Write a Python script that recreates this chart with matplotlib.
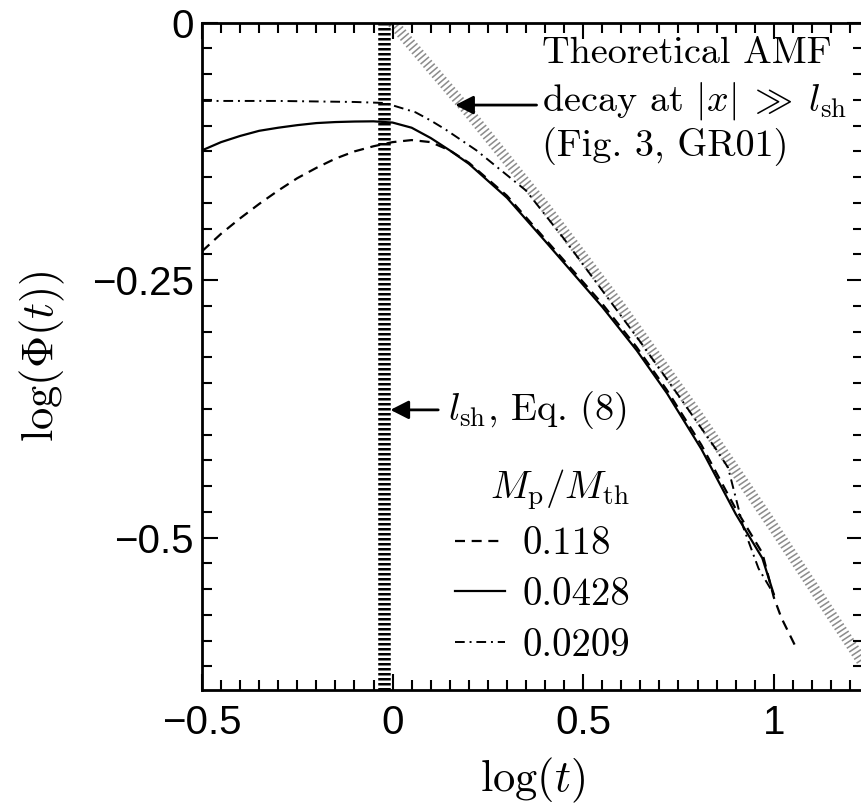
import matplotlib
matplotlib.use("Agg")
import matplotlib.pyplot as plt
from matplotlib.ticker import MultipleLocator

plt.rcParams['mathtext.fontset'] = 'cm'
plt.rcParams['font.family'] = 'serif'
plt.rcParams['font.serif'] = ['cmr10', 'DejaVu Serif']
plt.rcParams['axes.unicode_minus'] = True

# data
x_118 = [-0.5, -0.45, -0.4, -0.35, -0.3, -0.25, -0.2, -0.15, -0.1, -0.05, 0.0, 0.05,
         0.1, 0.15, 0.2, 0.3, 0.4, 0.55, 0.64, 0.72, 0.81, 0.9, 0.97, 1.0, 1.02, 1.06]
y_118 = [-0.222, -0.205, -0.19, -0.176, -0.163, -0.151, -0.141, -0.132, -0.125, -0.12,
         -0.116, -0.114, -0.116, -0.124, -0.136, -0.168, -0.21, -0.273, -0.315, -0.357,
         -0.41, -0.472, -0.515, -0.558, -0.578, -0.608]

x_0428 = [-0.5, -0.45, -0.4, -0.35, -0.3, -0.25, -0.2, -0.15, -0.1, -0.05, 0.0, 0.05,
          0.1, 0.15, 0.2, 0.3, 0.4, 0.55, 0.64, 0.72, 0.81, 0.9, 0.97, 1.0]
y_0428 = [-0.124, -0.116, -0.11, -0.105, -0.102, -0.0995, -0.0975, -0.0965, -0.096,
          -0.0958, -0.097, -0.102, -0.112, -0.124, -0.137, -0.170, -0.212, -0.276,
          -0.318, -0.36, -0.414, -0.477, -0.52, -0.555]

x_0209 = [-0.5, -0.3, -0.1, -0.02, 0.06, 0.1, 0.14, 0.22, 0.29, 0.35, 0.45, 0.55,
          0.65, 0.75, 0.85, 0.88, 0.92, 0.96, 1.0]
y_0209 = [-0.076, -0.076, -0.077, -0.078, -0.087, -0.095, -0.104, -0.124, -0.145, -0.163,
          -0.21, -0.26, -0.31, -0.362, -0.415, -0.432, -0.49, -0.53, -0.555]

# theoretical AMF decay band (GR01)
theory_x = [0.0, 0.2, 0.4, 0.6, 0.8, 1.0, 1.24]
theory_y = [0.0, -0.087, -0.179, -0.277, -0.381, -0.49, -0.625]

l_sh = -0.022

legend_labels = ['0.118', '0.0428', '0.0209']
xtick_vals = [-0.5, 0, 0.5, 1]
xtick_labels = ['\u22120.5', '0', '0.5', '1']
ytick_vals = [0, -0.25, -0.5]
ytick_labels = ['0', '\u22120.25', '\u22120.5']

fig = plt.figure(figsize=(8.61, 8.07), dpi=100)
ax = fig.add_axes([0.2346, 0.145, 0.7677, 0.8269])

ax.plot(theory_x, theory_y, color='0.55', lw=8, dashes=(0.14, 0.26),
        dash_capstyle='butt', zorder=1)
ax.axvline(l_sh, color='k', lw=9, dashes=(0.2, 0.2), dash_capstyle='butt', zorder=2)

l1, = ax.plot(x_118, y_118, color='k', lw=1.6, ls=(0, (4.5, 3)), zorder=3)
l2, = ax.plot(x_0428, y_0428, color='k', lw=1.6, zorder=3)
l3, = ax.plot(x_0209, y_0209, color='k', lw=1.4, ls=(0, (5, 2.5, 1, 2.5)), zorder=3)

ax.set_xlim(-0.492, 1.234)
ax.set_ylim(-0.648, 0)

ax.set_xticks(xtick_vals, xtick_labels)
ax.set_yticks(ytick_vals, ytick_labels)
ax.xaxis.set_minor_locator(MultipleLocator(0.05))
ax.yaxis.set_minor_locator(MultipleLocator(0.025))
ax.tick_params(which='both', direction='in', top=True, right=True, width=1.5,
               labelsize=29, labelfontfamily='Liberation Sans')
ax.tick_params(which='major', length=11.5)
ax.tick_params(which='minor', length=7)
ax.tick_params(axis='x', pad=10)
ax.tick_params(axis='y', pad=6)
for s in ax.spines.values():
    s.set_linewidth(2)

ax.set_xlabel(r'$\log(t)$', fontsize=32, labelpad=10)
ax.set_ylabel(r'$\log(\Phi(t))$', fontsize=32, labelpad=18)

# annotation for the theoretical curve
ax.annotate('', xy=(0.157, -0.080), xytext=(0.385, -0.080),
            arrowprops=dict(arrowstyle='-|>,head_length=0.55,head_width=0.28',
                            color='k', lw=2, mutation_scale=20))
ax.text(0.393, -0.039, 'Theoretical AMF', fontsize=27.5, va='baseline')
ax.text(0.393, -0.0848, r'decay at $|x|\;\gg\;l_{\rm sh}$', fontsize=27.5, va='baseline')
ax.text(0.393, -0.130, '(Fig. 3, GR01)', fontsize=27.5, va='baseline')

# annotation for l_sh
ax.annotate('', xy=(-0.013, -0.376), xytext=(0.127, -0.376),
            arrowprops=dict(arrowstyle='-|>,head_length=0.55,head_width=0.28',
                            color='k', lw=2, mutation_scale=20))
ax.text(0.145, -0.386, r'$l_{\rm sh}$, Eq. (8)', fontsize=27.5, va='baseline')

leg = ax.legend([l1, l2, l3], legend_labels, title=r'$M_{\rm p}/M_{\rm th}$',
                loc='upper left', bbox_to_anchor=(0.383, 0.333), frameon=False,
                fontsize=28, title_fontsize=28, handlelength=1.28,
                handletextpad=0.44, labelspacing=0.38, borderpad=0,
                borderaxespad=0, alignment='right')

fig.savefig('out.png', dpi=100)
